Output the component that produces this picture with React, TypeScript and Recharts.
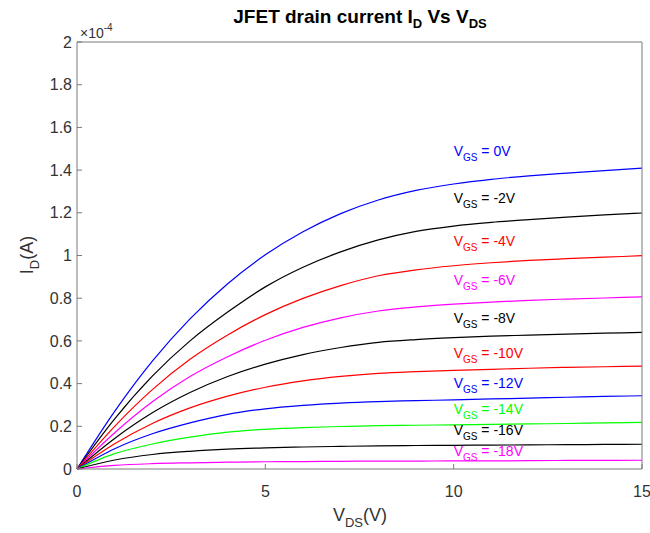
import { LineChart, Line, XAxis, YAxis, ReferenceDot } from "recharts"

// drain-source voltage (V)
const vds = [0, 1, 2, 3, 4, 5, 6, 7, 8, 9, 10, 11, 12, 13, 14, 15]

// drain current, in units of 1e-4 A, one list per gate voltage
const id0V = [0, 0.27, 0.505, 0.703, 0.868, 1.003, 1.111, 1.196, 1.26, 1.305, 1.335, 1.357, 1.373, 1.386, 1.398, 1.409]
const idM2V = [0, 0.235, 0.435, 0.6, 0.735, 0.853, 0.945, 1.017, 1.073, 1.113, 1.138, 1.155, 1.168, 1.18, 1.19, 1.199]
const idM4V = [0, 0.2, 0.372, 0.514, 0.628, 0.723, 0.799, 0.859, 0.905, 0.933, 0.952, 0.966, 0.977, 0.985, 0.992, 0.999]
const idM6V = [0, 0.17, 0.315, 0.433, 0.526, 0.603, 0.663, 0.708, 0.74, 0.759, 0.772, 0.782, 0.79, 0.796, 0.801, 0.806]
const idM8V = [0, 0.143, 0.263, 0.358, 0.433, 0.491, 0.536, 0.569, 0.593, 0.606, 0.615, 0.622, 0.627, 0.632, 0.636, 0.64]
const idM10V = [0, 0.118, 0.213, 0.286, 0.341, 0.383, 0.413, 0.434, 0.448, 0.456, 0.462, 0.467, 0.472, 0.476, 0.479, 0.482]
const idM12V = [0, 0.095, 0.165, 0.216, 0.256, 0.282, 0.298, 0.309, 0.316, 0.32, 0.324, 0.328, 0.332, 0.336, 0.34, 0.343]
const idM14V = [0, 0.072, 0.117, 0.149, 0.173, 0.186, 0.194, 0.199, 0.203, 0.205, 0.207, 0.209, 0.211, 0.213, 0.216, 0.218]
const idM16V = [0, 0.042, 0.068, 0.083, 0.093, 0.099, 0.103, 0.106, 0.108, 0.11, 0.111, 0.112, 0.113, 0.114, 0.115, 0.116]
const idM18V = [0, 0.017, 0.025, 0.029, 0.032, 0.034, 0.035, 0.036, 0.037, 0.037, 0.038, 0.038, 0.039, 0.04, 0.04, 0.041]

const gateLabels = ["0V", "-2V", "-4V", "-6V", "-8V", "-10V", "-12V", "-14V", "-16V", "-18V"]
const curveColors = ["#0000ff", "#000000", "#ff0000", "#ff00ff", "#000000", "#ff0000", "#0000ff", "#00ff00", "#000000", "#ff00ff"]
// where each V_GS note sits (x in V, y in 1e-4 A)
const labelVds = 10
const labelLevels = [1.49, 1.27, 1.07, 0.885, 0.705, 0.545, 0.405, 0.28, 0.185, 0.085]

const xTicks = [0, 5, 10, 15]
const yTicks = [0, 0.2, 0.4, 0.6, 0.8, 1, 1.2, 1.4, 1.6, 1.8, 2]

const curves = [id0V, idM2V, idM4V, idM6V, idM8V, idM10V, idM12V, idM14V, idM16V, idM18V]

const rows = vds.map((v, i) => {
  const row: Record<string, number> = { v }
  curves.forEach((c, k) => {
    row[`s${k}`] = c[i]
  })
  return row
})

const font = "'Liberation Sans', Arial, Helvetica, sans-serif"
const axisColor = "#7a7a7a"
const tickStyle = { fill: "#333", fontSize: 16, fontFamily: font }

function VgsNote({ cx, cy, color, text }: { cx?: number; cy?: number; color: string; text: string }) {
  if (cx == null || cy == null) return null
  return (
    <text x={cx} y={cy + 5} fill={color} fontSize={14} fontFamily={font}>
      <tspan>V</tspan>
      <tspan dy={5} fontSize={10}>GS</tspan>
      <tspan dy={-5}>{` = ${text}`}</tspan>
    </text>
  )
}

export default function App() {
  return (
    <div style={{ position: "absolute", left: 0, top: 0, width: 650, height: 533, background: "#fff" }}>
      <LineChart width={650} height={533} data={rows} margin={{ top: 41, right: 7, bottom: 34, left: 27 }}>
        <XAxis
          dataKey="v"
          type="number"
          domain={[0, 15]}
          ticks={xTicks}
          interval={0}
          height={30}
          stroke={axisColor}
          tickSize={-5}
          tickMargin={22}
          tick={tickStyle}
        />
        <XAxis
          xAxisId="top"
          orientation="top"
          type="number"
          domain={[0, 15]}
          ticks={xTicks}
          interval={0}
          height={1}
          stroke={axisColor}
          tickSize={-5}
          tick={false}
        />
        <YAxis
          type="number"
          domain={[0, 2]}
          ticks={yTicks}
          interval={0}
          width={50}
          stroke={axisColor}
          tickSize={-5}
          tickMargin={10}
          tick={tickStyle}
          tickFormatter={(v: number) => String(Math.round(v * 10) / 10)}
        />
        <YAxis
          yAxisId="right"
          orientation="right"
          type="number"
          domain={[0, 2]}
          ticks={yTicks}
          interval={0}
          width={1}
          stroke={axisColor}
          tickSize={-5}
          tick={false}
        />
        {curves.map((_, k) => (
          <Line
            key={k}
            type="monotone"
            dataKey={`s${k}`}
            stroke={curveColors[k]}
            strokeWidth={1.2}
            dot={false}
            isAnimationActive={false}
          />
        ))}
        {gateLabels.map((g, k) => (
          <ReferenceDot
            key={g}
            x={labelVds}
            y={labelLevels[k]}
            r={0}
            shape={(p: any) => <VgsNote cx={p.cx} cy={p.cy} color={curveColors[k]} text={g} />}
          />
        ))}
      </LineChart>
      <svg
        width={650}
        height={533}
        style={{ position: "absolute", left: 0, top: 0, pointerEvents: "none" }}
        fontFamily={font}
      >
        <text x={360} y={23} textAnchor="middle" fontSize={19} fontWeight="bold" fill="#000">
          <tspan>JFET drain current I</tspan>
          <tspan dy={5} fontSize={13}>D</tspan>
          <tspan dy={-5}> Vs V</tspan>
          <tspan dy={5} fontSize={13}>DS</tspan>
        </text>
        <text x={80} y={38} fontSize={14} fill="#333">
          <tspan>×10</tspan>
          <tspan dy={-7} fontSize={10}>-4</tspan>
        </text>
        <text x={360} y={521} textAnchor="middle" fontSize={18} fill="#333">
          <tspan>V</tspan>
          <tspan dy={6} fontSize={13}>DS</tspan>
          <tspan dy={-6}>(V)</tspan>
        </text>
        <text transform="translate(33,255) rotate(-90)" textAnchor="middle" fontSize={18} fill="#333">
          <tspan>I</tspan>
          <tspan dy={6} fontSize={13}>D</tspan>
          <tspan dy={-6}>(A)</tspan>
        </text>
      </svg>
    </div>
  )
}
